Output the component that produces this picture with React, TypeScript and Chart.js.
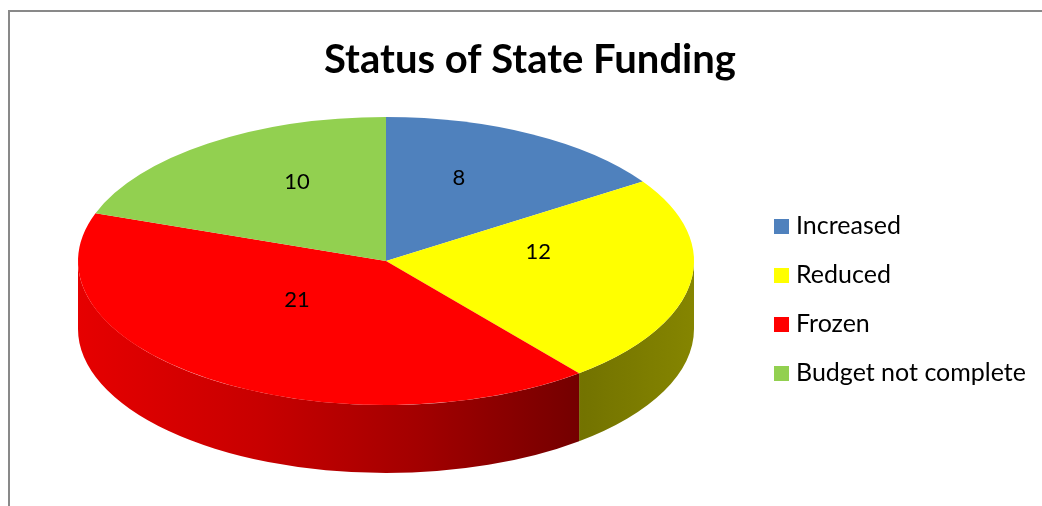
import React, { useEffect, useRef } from 'react';
import { Chart, registerables } from 'chart.js';

Chart.register(...registerables);

const CATEGORIES = ['Increased', 'Reduced', 'Frozen', 'Budget not complete'];
const VALUES = [8, 12, 21, 10];
const COLORS = ['#4F81BD', '#FFFF00', '#FF0000', '#92D050'];
const TITLE = 'Status of State Funding';

const FONT = 'Lato, "Open Sans", "DejaVu Sans", sans-serif';

// geometry of the tilted pie (pixels)
const PIE = { cx: 386, cy: 261, rx: 308, ry: 144, depth: 68, labelShift: -20, labelR: 0.5 };
// legend layout (pixels)
const LEG = { boxX: 774, textX: 796, firstBaseline: 234, step: 49, box: 15, size: 25 };

function hexToRgb(h: string): number[] {
  const s = h.replace('#', '');
  return [0, 2, 4].map((i) => parseInt(s.slice(i, i + 2), 16));
}
function shade(hex: string, f: number): string {
  const [r, g, b] = hexToRgb(hex);
  return `rgb(${Math.round(r * f)},${Math.round(g * f)},${Math.round(b * f)})`;
}

const pie3d = {
  id: 'pie3d',
  beforeDraw(chart: any) {
    const ctx = chart.ctx;
    ctx.save();
    ctx.strokeStyle = '#898989';
    ctx.lineWidth = 2;
    ctx.beginPath();
    ctx.moveTo(9, chart.height);
    ctx.lineTo(9, 11);
    ctx.lineTo(chart.width, 11);
    ctx.stroke();
    ctx.restore();
  },
  beforeDatasetsDraw(chart: any) {
    const ctx = chart.ctx;
    const meta = chart.getDatasetMeta(0);
    const { cx, cy, rx, ry, depth } = PIE;
    const TWO_PI = Math.PI * 2;
    meta.data.forEach((arc: any, i: number) => {
      const { startAngle, endAngle } = arc.getProps(['startAngle', 'endAngle'], true);
      const color = COLORS[i];
      for (let k = -1; k <= 1; k++) {
        const lo = Math.max(startAngle, k * TWO_PI);
        const hi = Math.min(endAngle, k * TWO_PI + Math.PI);
        if (hi <= lo) continue;
        const grad = ctx.createLinearGradient(cx - rx, 0, cx + rx, 0);
        grad.addColorStop(0, shade(color, 0.9));
        grad.addColorStop(0.3, shade(color, 0.78));
        grad.addColorStop(0.55, shade(color, 0.64));
        grad.addColorStop(0.82, shade(color, 0.45));
        grad.addColorStop(1, shade(color, 0.52));
        ctx.save();
        ctx.beginPath();
        ctx.moveTo(cx + rx * Math.cos(lo), cy + ry * Math.sin(lo));
        ctx.ellipse(cx, cy, rx, ry, 0, lo, hi, false);
        ctx.lineTo(cx + rx * Math.cos(hi), cy + ry * Math.sin(hi) + depth);
        ctx.ellipse(cx, cy + depth, rx, ry, 0, hi, lo, true);
        ctx.closePath();
        ctx.fillStyle = grad;
        ctx.fill();
        ctx.restore();
      }
    });
    const a0 = meta.data[0];
    const r = a0.outerRadius;
    ctx.save();
    ctx.translate(cx, cy);
    ctx.scale(rx / r, ry / r);
    ctx.translate(-a0.x, -a0.y);
  },
  afterDatasetsDraw(chart: any) {
    const ctx = chart.ctx;
    ctx.restore();
    const meta = chart.getDatasetMeta(0);
    const { cx, cy, rx, ry, labelShift, labelR } = PIE;
    ctx.save();
    ctx.fillStyle = '#000';
    ctx.font = `22px ${FONT}`;
    ctx.textAlign = 'center';
    ctx.textBaseline = 'middle';
    meta.data.forEach((arc: any, i: number) => {
      const { startAngle, endAngle } = arc.getProps(['startAngle', 'endAngle'], true);
      const mid = (startAngle + endAngle) / 2;
      const x = cx + labelR * rx * Math.cos(mid);
      const y = cy + labelShift + labelR * ry * Math.sin(mid);
      ctx.fillText(String(chart.data.datasets[0].data[i]), x, y);
    });
    ctx.restore();
  },
  afterDraw(chart: any) {
    const ctx = chart.ctx;
    const labels = chart.data.labels as string[];
    const colors = chart.data.datasets[0].backgroundColor as string[];
    ctx.save();
    ctx.font = `${LEG.size}px ${FONT}`;
    ctx.textAlign = 'left';
    ctx.textBaseline = 'alphabetic';
    labels.forEach((lab, i) => {
      const base = LEG.firstBaseline + i * LEG.step;
      ctx.fillStyle = colors[i];
      ctx.fillRect(LEG.boxX, base - LEG.box, LEG.box, LEG.box);
      ctx.fillStyle = '#000';
      ctx.fillText(lab, LEG.textX, base);
    });
    ctx.restore();
  },
};

export default function App() {
  const ref = useRef<HTMLCanvasElement | null>(null);
  useEffect(() => {
    document.body.style.margin = '0';
    const chart = new Chart(ref.current as HTMLCanvasElement, {
      type: 'pie',
      data: {
        labels: CATEGORIES,
        datasets: [
          {
            data: VALUES,
            backgroundColor: COLORS,
            borderWidth: 0,
          },
        ],
      },
      options: {
        animation: false,
        responsive: true,
        maintainAspectRatio: false,
        events: [],
        layout: { padding: { left: 18, right: 0, top: 0, bottom: 0 } },
        plugins: {
          title: {
            display: true,
            text: TITLE,
            color: '#000',
            font: { family: FONT, size: 40, weight: 'bold' },
            padding: { top: 36, bottom: 20 },
          },
          legend: { display: false },
          tooltip: { enabled: false },
        },
      },
      plugins: [pie3d],
    });
    return () => chart.destroy();
  }, []);
  return (
    <div style={{ width: 1042, height: 506, position: 'relative' }}>
      <canvas ref={ref} />
    </div>
  );
}
